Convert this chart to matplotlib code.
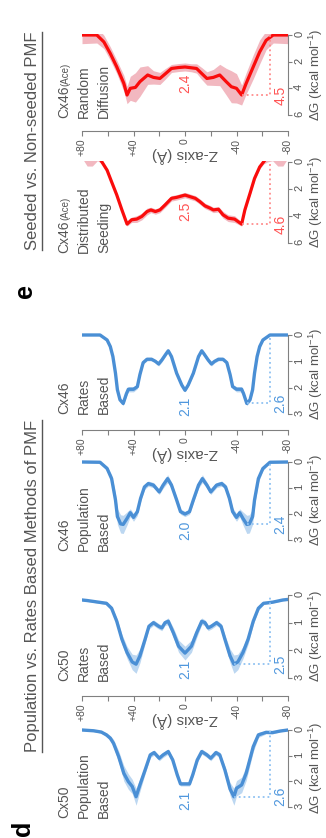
import numpy as np
import matplotlib
matplotlib.use("Agg")
import matplotlib.pyplot as plt
from matplotlib.lines import Line2D

plt.rcParams["font.family"] = ["Liberation Sans", "DejaVu Sans"]
plt.rcParams["mathtext.fontset"] = "custom"
plt.rcParams["mathtext.rm"] = "Liberation Sans"
plt.rcParams["mathtext.it"] = "Liberation Sans:italic"

W, H = 326, 838  # px, saved at dpi 100

# ---- PMF data: Z (Å), mean ΔG (kcal/mol), band half-width ----
cx50_pop_z = [80, 71, 65, 61, 58, 55.5, 51.5, 47.5, 44, 41, 39.5, 38, 35, 31, 27, 24, 20, 17, 13, 9.5, 6, 3.5,
              -3.5, -6, -9.5, -13, -17, -20, -24, -27, -31, -35, -38, -40, -44, -47.5, -53, -57, -63, -68, -74, -80]
cx50_pop_g = [0, 0.03, 0.08, 0.19, 0.32, 0.52, 1.04, 1.69, 2.01, 2.2, 2.4, 2.6, 2.14, 1.56, 0.97, 0.88, 1.1, 0.97,
              0.84, 1.17, 1.75, 2.1, 2.1, 1.75, 1.17, 0.84, 0.97, 1.1, 0.88, 0.97, 1.56, 2.3, 2.6, 2.27, 2.14, 1.69,
              0.65, 0.19, 0.09, 0.1, 0.04, 0]
cx50_pop_sd = [0.02, 0.03, 0.05, 0.08, 0.1, 0.15, 0.22, 0.3, 0.3, 0.28, 0.3, 0.33, 0.25, 0.15, 0.1, 0.1, 0.1, 0.1,
               0.1, 0.1, 0.1, 0.08, 0.08, 0.1, 0.1, 0.1, 0.1, 0.1, 0.1, 0.1, 0.15, 0.25, 0.33, 0.3, 0.3, 0.28,
               0.2, 0.1, 0.06, 0.05, 0.03, 0.02]

cx50_rate_z = [80, 76, 61, 57, 53, 49, 45, 41, 38, 35, 31, 28, 24.5, 20.5, 18, 15.5, 13, 9, 5, 0,
               -5, -9, -13, -15.5, -18, -20.5, -24.5, -28, -31, -35, -38, -41, -45, -49, -53, -57, -61, -68, -76, -80]
cx50_rate_g = [0.18, 0.2, 0.3, 0.48, 0.95, 1.6, 2.08, 2.42, 2.5, 2.2, 1.6, 1.13, 1.0, 1.13, 1.19, 1.0, 0.95, 1.37,
               1.85, 2.1, 1.85, 1.37, 0.95, 1.0, 1.19, 1.13, 1.0, 1.13, 1.6, 2.2, 2.5, 2.42, 2.08, 1.6, 0.95, 0.48,
               0.3, 0.26, 0.18, 0.16]
cx50_rate_sd = [0.03, 0.03, 0.05, 0.08, 0.12, 0.18, 0.22, 0.28, 0.33, 0.25, 0.15, 0.1, 0.1, 0.1, 0.1, 0.1, 0.12,
                0.18, 0.22, 0.25, 0.22, 0.18, 0.12, 0.1, 0.1, 0.1, 0.1, 0.1, 0.15, 0.25, 0.33, 0.28, 0.22, 0.18,
                0.12, 0.08, 0.05, 0.03, 0.03, 0.03]

cx46_pop_z = [80, 66, 60.5, 57, 54, 52.5, 50, 48, 45, 42.5, 40, 37, 34.5, 31.5, 28.5, 24.5, 20, 17, 13.5, 10.5, 6.5,
              3.5, 0, -3.5, -6.5, -10.5, -13.5, -17, -20, -24.5, -28.5, -31.5, -34.5, -37, -40, -42.5, -45, -48,
              -50, -52.5, -54, -57, -60.5, -66, -80]
cx46_pop_g = [0, 0.01, 0.25, 0.64, 1.46, 2.1, 2.38, 2.4, 2.17, 1.95, 2.13, 1.91, 1.4, 0.96, 0.83, 0.89, 1.15, 0.89,
              0.64, 0.89, 1.46, 1.91, 2.0, 1.91, 1.46, 0.89, 0.64, 0.89, 1.15, 0.89, 0.83, 0.96, 1.4, 1.91, 2.13,
              1.95, 2.17, 2.4, 2.38, 2.1, 1.46, 0.64, 0.25, 0.01, 0]
cx46_pop_sd = [0.02, 0.03, 0.08, 0.15, 0.25, 0.3, 0.35, 0.35, 0.25, 0.15, 0.15, 0.15, 0.12, 0.1, 0.1, 0.1, 0.1,
               0.12, 0.15, 0.12, 0.1, 0.1, 0.1, 0.1, 0.1, 0.12, 0.15, 0.12, 0.1, 0.1, 0.1, 0.1, 0.12, 0.15, 0.15,
               0.15, 0.25, 0.35, 0.35, 0.3, 0.25, 0.15, 0.08, 0.03, 0.02]

cx46_rate_z = [80, 66, 60.5, 58, 56, 54, 52.5, 50.5, 48, 45.5, 44, 40, 37, 35, 32.5, 29.5, 26, 23, 20.5, 18, 14.5,
               13, 10.5, 6.5, 2.5, 0, -2.5, -6.5, -10.5, -13, -14.5, -18, -20.5, -23, -26, -29.5, -32.5, -35, -37,
               -40, -44, -45.5, -48, -50.5, -52.5, -54, -56, -58, -60.5, -66, -80]
cx46_rate_g = [0, 0, 0.19, 0.44, 0.82, 1.45, 2.08, 2.46, 2.6, 2.23, 2.06, 2.06, 1.96, 1.5, 1.05, 0.92, 0.92, 1.0,
               1.1, 0.95, 0.7, 0.6, 0.82, 1.45, 1.9, 2.1, 1.9, 1.45, 0.82, 0.6, 0.7, 0.95, 1.1, 1.0, 0.92, 0.92,
               1.05, 1.5, 1.96, 2.06, 2.06, 2.23, 2.6, 2.46, 2.08, 1.45, 0.82, 0.44, 0.19, 0, 0]
cx46_rate_sd = [0.02, 0.02, 0.04, 0.05, 0.06, 0.08, 0.08, 0.08, 0.08, 0.1, 0.1, 0.1, 0.08, 0.06, 0.06, 0.06, 0.06,
                0.06, 0.08, 0.08, 0.06, 0.06, 0.06, 0.06, 0.06, 0.06, 0.06, 0.06, 0.06, 0.06, 0.06, 0.08, 0.08,
                0.06, 0.06, 0.06, 0.06, 0.06, 0.08, 0.1, 0.1, 0.1, 0.08, 0.08, 0.08, 0.08, 0.06, 0.05, 0.04, 0.02,
                0.02]

seed_z = [80, 76, 72, 68, 64.5, 60.5, 57, 53, 49, 45, 41.5, 37.5, 33.5, 29.5, 26.5, 23, 19.5, 15.5, 10.5, 6.5, 0,
          -4, -8, -11.5, -15.5, -19.5, -22, -26, -29.5, -33.5, -38.5, -44, -46.5, -50.5, -54, -58, -61, -64, -68,
          -72, -76, -80]
seed_g = [-0.8, -0.6, -0.6, -0.5, 0, 0.61, 1.47, 2.44, 3.55, 4.6, 4.28, 4.23, 4.03, 3.67, 3.55, 3.67, 3.55, 3.18,
          2.69, 2.62, 2.45, 2.57, 2.69, 2.93, 3.25, 3.42, 3.55, 3.5, 3.91, 4.16, 4.23, 4.6, 3.55, 2.32, 1.22, 0.37,
          0, -0.4, -0.6, -0.6, -0.6, -0.8]
seed_sd = [0.5, 0.9, 0.9, 0.4, 0.15, 0.15, 0.15, 0.15, 0.15, 0.15, 0.2, 0.25, 0.25, 0.25, 0.2, 0.2, 0.2, 0.2, 0.2,
           0.2, 0.2, 0.2, 0.2, 0.2, 0.2, 0.2, 0.2, 0.2, 0.25, 0.25, 0.25, 0.15, 0.15, 0.15, 0.15, 0.15, 0.15, 0.4,
           0.5, 0.9, 0.9, 0.5]

rand_z = [80, 68.5, 63, 58, 53, 47.5, 45, 42.5, 38.5, 35, 29, 24.5, 19.5, 15.5, 10.5, 5, 0, -5, -9, -13, -17, -22,
          -27, -32, -36, -40, -44, -47.5, -53, -58, -63, -68.5, -80]
rand_g = [0, 0, 0.52, 1.39, 2.39, 3.63, 4.5, 4.0, 3.93, 3.5, 3.0, 3.18, 3.26, 2.93, 2.51, 2.44, 2.4, 2.46, 2.51,
          2.89, 3.26, 3.18, 3.0, 3.5, 3.88, 4.0, 4.5, 3.63, 2.39, 1.27, 0.4, 0, 0]
rand_sd = [0.65, 0.6, 0.5, 0.5, 0.5, 0.6, 0.65, 0.9, 1.1, 1.1, 0.7, 0.5, 0.45, 0.4, 0.3, 0.3, 0.3, 0.3, 0.35, 0.45,
           0.5, 0.6, 0.8, 1.0, 1.2, 1.1, 0.75, 0.8, 0.9, 0.9, 0.7, 0.6, 0.65]

centre_labels = ["2.4", "2.5", "2.1", "2.0", "2.1", "2.1"]
barrier_labels = ["4.5", "4.6", "2.6", "2.4", "2.5", "2.6"]
z_ticks = [80, 60, 40, 20, 0, -20, -40, -60, -80]
z_tick_labels = ["+80", "", "+40", "", "0", "", "-40", "", "-80"]

BLUE = dict(line="#4a8fd5", band="#bcd7f1", txt="#4f97dd", dot="#8fc2f2", lw=2.4)
RED = dict(line="#fa0c0c", band="#f2b8c0", txt="#ff5252", dot="#ff8c8c", lw=2.3)
GREY_TXT = "#555555"
GREY_AX = "#808080"

# panels, top to bottom in the (rotated) image; y0/y1 = pixel rows of ΔG=0 and ΔG=max
panels = [
    dict(name=["Cx46", "Random", "Diffusion"], ace=True, z=rand_z, g=rand_g, sd=rand_sd, gmax=6,
         y0=35, y1=115, txt_y=118, col=RED),
    dict(name=["Cx46", "Distributed", "Seeding"], ace=True, z=seed_z, g=seed_g, sd=seed_sd, gmax=6,
         y0=162, y1=243, txt_y=253, col=RED),
    dict(name=["Cx46", "Rates", "Based"], ace=False, z=cx46_rate_z, g=cx46_rate_g, sd=cx46_rate_sd, gmax=3,
         y0=335, y1=414, txt_y=414, col=BLUE),
    dict(name=["Cx46", "Population", "Based"], ace=False, z=cx46_pop_z, g=cx46_pop_g, sd=cx46_pop_sd, gmax=3,
         y0=462, y1=540, txt_y=551, col=BLUE),
    dict(name=["Cx50", "Rates", "Based"], ace=False, z=cx50_rate_z, g=cx50_rate_g, sd=cx50_rate_sd, gmax=3,
         y0=595, y1=678, txt_y=681, col=BLUE),
    dict(name=["Cx50", "Population", "Based"], ace=False, z=cx50_pop_z, g=cx50_pop_g, sd=cx50_pop_sd, gmax=3,
         y0=730, y1=807, txt_y=818, col=BLUE),
]
z_axis_rows = [131, 430, 696]
X_LEFT, X_RIGHT = 82, 288
REF_Z = -66


def fx(x):
    return x / W


def fy(y):
    return 1 - y / H


def px_axes(fig, x0, y0, x1, y1):
    return fig.add_axes([fx(x0), fy(y1), (x1 - x0) / W, (y1 - y0) / H])


fig = plt.figure(figsize=(W / 100, H / 100), dpi=100)
renderer = fig.canvas.get_renderer()

for i, p in enumerate(panels):
    z = np.asarray(p["z"], float)
    g = np.asarray(p["g"], float)
    sd = np.asarray(p["sd"], float)
    c = p["col"]
    pad = 0.06
    ppu = (p["y1"] - p["y0"]) / p["gmax"]
    ax = px_axes(fig, X_LEFT, p["y0"] - pad * ppu, X_RIGHT, p["y1"])
    ax.set_xlim(80, -80)
    ax.set_ylim(p["gmax"], -pad)
    ax.patch.set_alpha(0)
    for s in ("top", "left", "bottom"):
        ax.spines[s].set_visible(False)
    ax.spines["right"].set_bounds(0, p["gmax"])
    ax.spines["right"].set_color(GREY_AX)
    ax.spines["right"].set_linewidth(0.8)
    ax.set_xticks([])
    ax.yaxis.tick_right()
    step = 2 if p["gmax"] == 6 else 1
    ax.set_yticks(np.arange(0, p["gmax"] + 1, step))
    ax.tick_params(axis="y", direction="out", length=3, width=0.8, colors=GREY_AX, labelcolor=GREY_TXT,
                   labelsize=8, labelrotation=90, pad=1.5)
    ax.yaxis.set_label_position("right")
    ax.set_ylabel("ΔG (kcal mol$^{-1}$)", rotation=90, fontsize=9.5, color=GREY_TXT, labelpad=2)

    ax.fill_between(z, g - sd, g + sd, color=c["band"], lw=0)
    ax.plot(z, g, color=c["line"], lw=c["lw"], solid_capstyle="round", solid_joinstyle="round")

    # centre well label
    g0 = np.interp(0, z[::-1], g[::-1])
    ax.annotate(centre_labels[i], xy=(0, g0), xytext=(0, -5), textcoords="offset points", rotation=90,
                ha="center", va="top", fontsize=10, color=c["txt"])
    # barrier: right-hand minimum
    k = int(np.argmax(np.where(z < 0, g, -np.inf)))
    zmin, gmin = z[k], g[k]
    ax.plot([zmin, REF_Z, REF_Z], [gmin, gmin, 0], ls=":", color=c["dot"], lw=1.3, clip_on=False)
    ax.text(-74, gmin, barrier_labels[i], rotation=90, ha="center", va="center", fontsize=10,
            color=c["txt"], clip_on=False)

    # panel name, three lines
    for j, s in enumerate(p["name"]):
        t = fig.text(fx(68 + 20 * j), fy(p["txt_y"]), s, rotation=90, rotation_mode="anchor", ha="left",
                     va="baseline", fontsize=10, color=GREY_TXT)
        if j == 0 and p["ace"]:
            bb = t.get_window_extent(renderer)
            fig.text(fx(68), bb.y1 / fig.bbox.height, "(Ace)", rotation=90, rotation_mode="anchor",
                     ha="left", va="baseline", fontsize=7, color=GREY_TXT)

# shared Z axes
for yr in z_axis_rows:
    za = fig.add_axes([fx(X_LEFT), fy(yr), (X_RIGHT - X_LEFT) / W, 0.0001])
    za.patch.set_alpha(0)
    for s in ("top", "left", "right"):
        za.spines[s].set_visible(False)
    za.spines["bottom"].set_color(GREY_AX)
    za.spines["bottom"].set_linewidth(0.8)
    za.set_xlim(80, -80)
    za.set_yticks([])
    za.set_xticks(z_ticks)
    za.set_xticklabels(z_tick_labels)
    za.tick_params(axis="x", direction="out", length=3.5, width=0.8, colors=GREY_AX, labelcolor=GREY_TXT,
                   labelsize=7.5, labelrotation=90, pad=2)
    fig.text(fx(185), fy(yr + 24), "Z-axis (Å)", rotation=180, ha="center", va="center", fontsize=11,
             color=GREY_TXT)

# section titles with underline
for title, yc in [("Seeded vs. Non-seeded PMF", 141), ("Population vs. Rates Based Methods of PMF", 586)]:
    t = fig.text(fx(37), fy(yc), title, rotation=90, rotation_mode="anchor", ha="center", va="baseline",
                 fontsize=12, color=GREY_TXT)
    bb = t.get_window_extent(renderer)
    fig.add_artist(Line2D([fx(42), fx(42)], [bb.y0 / fig.bbox.height, bb.y1 / fig.bbox.height],
                          transform=fig.transFigure, color=GREY_TXT, lw=1))

fig.text(fx(25), fy(291), "e", rotation=90, ha="center", va="center", fontsize=18, fontweight="bold")
fig.text(fx(23), fy(828), "d", rotation=90, ha="center", va="center", fontsize=18, fontweight="bold")

fig.savefig("out.png", dpi=100)
